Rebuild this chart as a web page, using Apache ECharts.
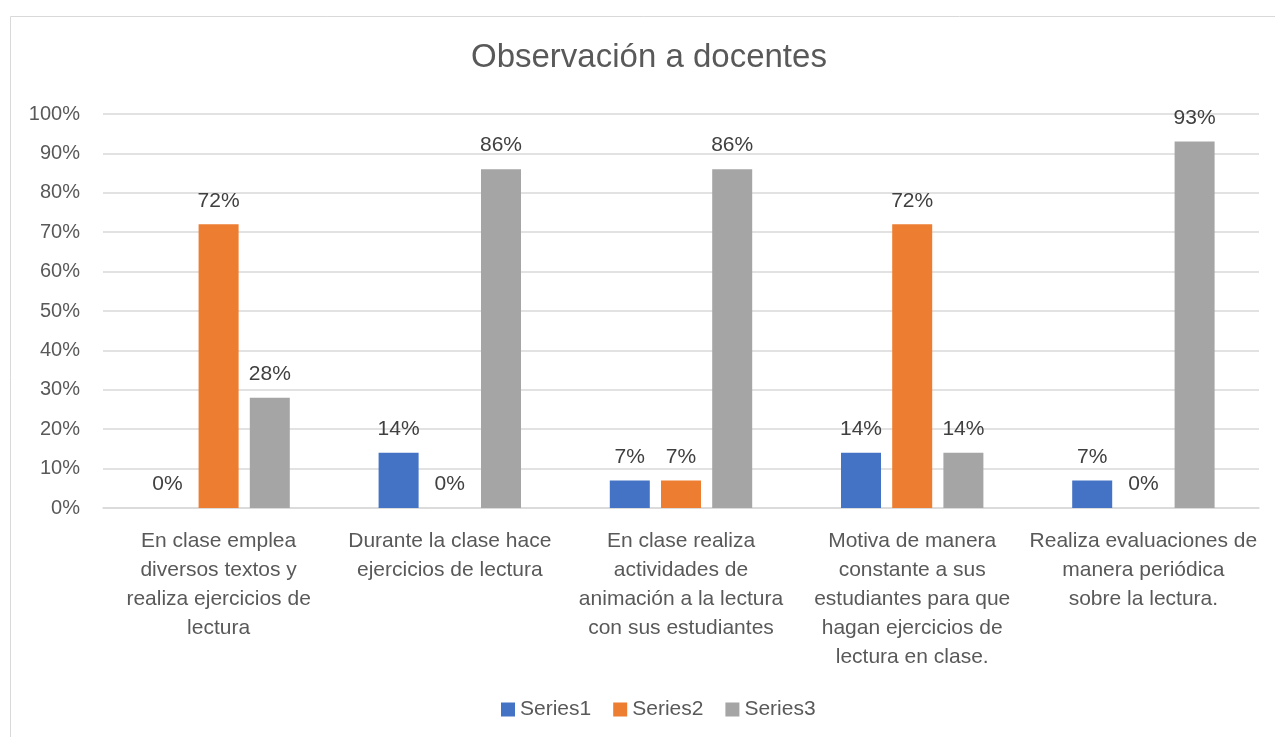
<!DOCTYPE html>
<html>
<head>
<meta charset="utf-8">
<script src="https://cdn.jsdelivr.net/npm/echarts@6/dist/echarts.min.js"></script>
<style>
  html, body { margin: 0; padding: 0; background: #fff; }
  #chart { width: 1275px; height: 737px; }
</style>
</head>
<body>
<div id="chart"></div>
<script>
const categories = [
  'En clase emplea\ndiversos textos y\nrealiza ejercicios de\nlectura',
  'Durante la clase hace\nejercicios de lectura',
  'En clase realiza\nactividades de\nanimación a la lectura\ncon sus estudiantes',
  'Motiva de manera\nconstante a sus\nestudiantes para que\nhagan ejercicios de\nlectura en clase.',
  'Realiza evaluaciones de\nmanera periódica\nsobre la lectura.'
]
const series1 = [0, 14, 7, 14, 7]
const series2 = [72, 0, 7, 72, 0]
const series3 = [28, 86, 86, 14, 93]
const seriesNames = ['Series1', 'Series2', 'Series3']
const colors = ['#4472C4', '#ED7D31', '#A5A5A5']

const FONT = 'Liberation Sans'
const TEXT = '#595959'

const chart = echarts.init(document.getElementById('chart'))

function barSeries(name, data, color) {
  return {
    name,
    type: 'bar',
    data,
    barWidth: 40,
    barGap: '28%',
    itemStyle: { color },
    label: {
      show: true,
      position: 'top',
      distance: 13,
      formatter: (p) => p.value + '%',
      color: '#404040',
      fontFamily: FONT,
      fontSize: 21,
    },
  }
}

chart.setOption({
  animation: false,
  textStyle: { fontFamily: FONT },
  graphic: [{
    type: 'rect',
    shape: { x: 10.5, y: 16.5, width: 1280, height: 740 },
    style: { fill: 'none', stroke: '#d9d9d9', lineWidth: 1 },
    silent: true,
  }],
  title: {
    text: 'Observación a docentes',
    left: 466,
    top: 36,
    textStyle: { fontFamily: FONT, fontSize: 33, fontWeight: 'normal', color: TEXT },
  },
  legend: {
    bottom: 12,
    left: 496,
    itemWidth: 14,
    itemHeight: 14,
    itemGap: 22,
    icon: 'rect',
    data: seriesNames,
    textStyle: { fontFamily: FONT, fontSize: 21, color: TEXT },
  },
  grid: { left: 103, right: 16, top: 114, bottom: 229 },
  xAxis: {
    type: 'category',
    data: categories,
    axisLine: { lineStyle: { color: '#d9d9d9', width: 1.5 } },
    axisTick: { show: false },
    axisLabel: {
      interval: 0,
      margin: 19,
      fontFamily: FONT,
      fontSize: 21,
      color: TEXT,
      lineHeight: 29,
      align: 'center',
    },
  },
  yAxis: {
    type: 'value',
    min: 0,
    max: 100,
    interval: 10,
    axisLine: { show: false },
    axisTick: { show: false },
    splitLine: { lineStyle: { color: '#d9d9d9', width: 1.5 } },
    axisLabel: {
      formatter: '{value}%',
      margin: 23,
      fontFamily: FONT,
      fontSize: 20,
      color: TEXT,
    },
  },
  series: [
    barSeries(seriesNames[0], series1, colors[0]),
    barSeries(seriesNames[1], series2, colors[1]),
    barSeries(seriesNames[2], series3, colors[2]),
  ],
})
</script>
</body>
</html>
